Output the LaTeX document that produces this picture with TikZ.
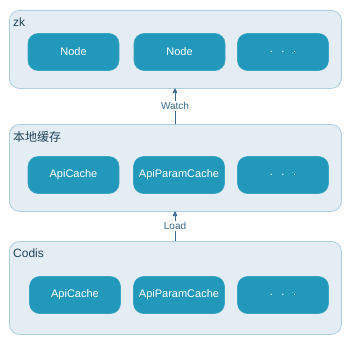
\documentclass[tikz,border=0pt]{standalone}
\usepackage{fontspec}
\setmainfont{Liberation Sans}
\newfontfamily\cjk{Noto Sans CJK SC}
\usetikzlibrary{arrows.meta}
\definecolor{boxfill}{HTML}{E4EDF3}
\definecolor{boxline}{HTML}{AFD0E0}
\definecolor{nodefill}{HTML}{2298BA}
\definecolor{nodeline}{HTML}{3FA5C4}
\definecolor{titlecol}{HTML}{23465A}
\definecolor{arrowcol}{HTML}{3A6B8E}
\newcommand{\tridots}{.\hspace{8.5pt}.\hspace{8.5pt}.}
\begin{document}
\begin{tikzpicture}[x=1pt,y=-1pt,
  layerbox/.style={draw=boxline,fill=boxfill,line width=0.8pt,rounded corners=10pt},
  item/.style={draw=nodeline,fill=nodefill,line width=0.6pt,rounded corners=10pt,
    minimum width=91pt,minimum height=37pt,inner sep=0pt,text=white,font=\fontsize{11}{13}\selectfont},
  ttl/.style={anchor=west,text=titlecol,inner sep=0pt,font=\fontsize{12}{14}\selectfont},
  conn/.style={draw=arrowcol,line width=0.7pt,-{Triangle[length=5pt,width=4.5pt]}},
  lbl/.style={fill=white,inner sep=1.5pt,text=arrowcol,font=\fontsize{10}{12}\selectfont}]
\useasboundingbox (0,0) rectangle (352,345);
% layer boxes
\node[layerbox,minimum width=332pt,minimum height=78pt,anchor=north west,inner sep=0pt] (zk) at (9,10) {};
\node[layerbox,minimum width=332pt,minimum height=87pt,anchor=north west,inner sep=0pt] (local) at (9,124) {};
\node[layerbox,minimum width=332pt,minimum height=93pt,anchor=north west,inner sep=0pt] (codis) at (9,241) {};
% titles
\node[ttl] (tzk) at (13,22) {zk};
\node[ttl] (tlocal) at (13,137) {\cjk 本地缓存};
\node[ttl] (tcodis) at (13,253) {Codis};
% items
\node[item] (n1) at (73.5,52) {Node};
\node[item] (n2) at (179.5,52) {Node};
\node[item] (n3) at (283,52) {\tridots};
\node[item] (l1) at (73.5,175) {ApiCache};
\node[item] (l2) at (179,175) {ApiParamCache};
\node[item] (l3) at (283,175) {\tridots};
\node[item] (c1) at (75,295) {ApiCache};
\node[item] (c2) at (179,295) {ApiParamCache};
\node[item] (c3) at (283,295) {\tridots};
% connectors
\coordinate (wa) at (175,124);
\coordinate (wb) at (175,88);
\coordinate (la) at (175,241);
\coordinate (lb) at (175,211);
\draw[conn] (wa) -- node[lbl] (watch) {Watch} (wb);
\draw[conn] (la) -- node[lbl] (load) {Load} (lb);
\end{tikzpicture}
\end{document}
